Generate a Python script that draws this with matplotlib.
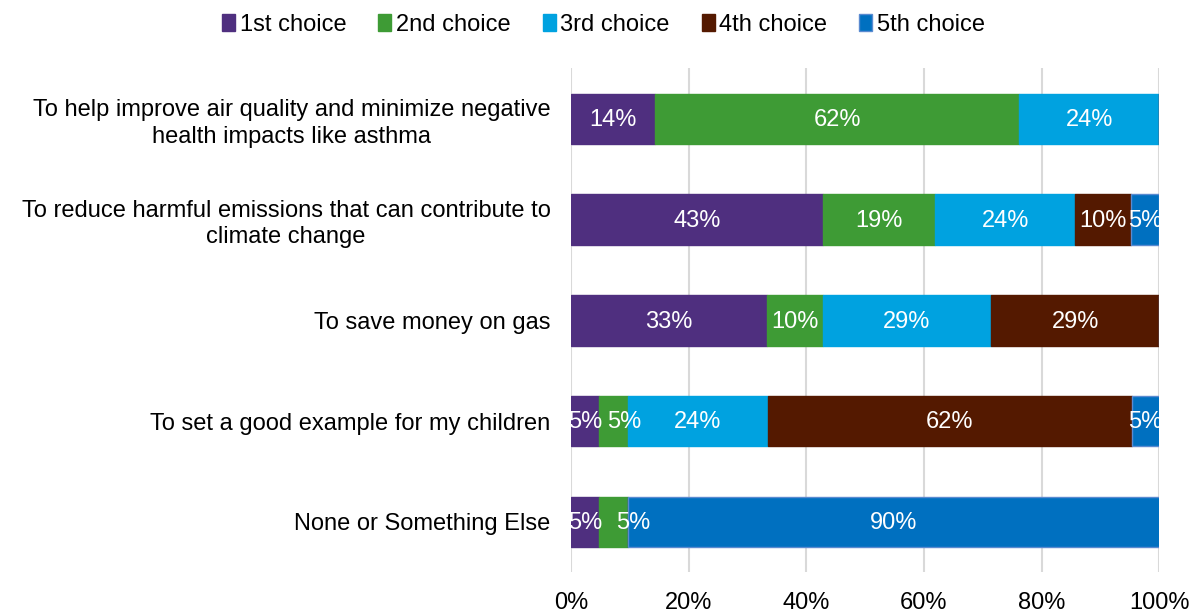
import matplotlib
matplotlib.use("Agg")
import matplotlib.pyplot as plt
import numpy as np

plt.rcParams['font.family'] = ['Liberation Sans', 'DejaVu Sans']

categories = [
    "To help improve air quality and minimize negative\nhealth impacts like asthma",
    "To reduce harmful emissions that can contribute to\nclimate change",
    "To save money on gas",
    "To set a good example for my children",
    "None or Something Else",
]
series_names = ["1st choice", "2nd choice", "3rd choice", "4th choice", "5th choice"]
# share of respondents (%) per ranking choice, one list per series
first_choice = [14.3, 42.9, 33.3, 4.8, 4.8]
second_choice = [61.9, 19.0, 9.5, 4.8, 4.8]
third_choice = [23.8, 23.8, 28.6, 23.8, 0.0]
fourth_choice = [0.0, 9.5, 28.6, 61.9, 0.0]
fifth_choice = [0.0, 4.8, 0.0, 4.8, 90.5]
x_ticks = [0, 20, 40, 60, 80, 100]

series = [first_choice, second_choice, third_choice, fourth_choice, fifth_choice]
colors = ["#4F2F7F", "#3E9B35", "#00A2E0", "#541900", "#0070C0"]
edges = ["#4F2F7F", "#3E9B35", "#00A2E0", "#541900", "#5A8AD0"]

# horizontal nudges (points) for labels on very thin segments: (series, row)
label_nudge = {(1, 3): 8, (1, 4): 14}

FS = 17

fig = plt.figure(figsize=(11.95, 6.16), dpi=100)
ax = fig.add_axes([0.478, 0.071, 0.492, 0.818])

y = np.arange(len(categories))
left = np.zeros(len(categories))
handles = []
for si, (name, vals, c, ec) in enumerate(zip(series_names, series, colors, edges)):
    vals = np.array(vals)
    bars = ax.barh(y, vals, left=left, height=0.5, color=c, edgecolor=ec,
                   linewidth=1.0, label=name, zorder=3)
    for ri, (yi, v, l) in enumerate(zip(y, vals, left)):
        if v > 0:
            ax.annotate(f"{v:.0f}%", xy=(l + v / 2, yi),
                        xytext=(label_nudge.get((si, ri), 0), -1),
                        textcoords='offset points', ha='center', va='center',
                        color='white', fontsize=FS, zorder=4, clip_on=True,
                        annotation_clip=False)
    left += vals
    handles.append(bars)

ax.set_xlim(0, 100)
ax.set_ylim(len(categories) - 0.5, -0.5)
ax.set_yticks(y)
ax.set_yticklabels(categories, fontsize=FS, multialignment='center',
                   linespacing=1.25)
ax.set_xticks(x_ticks)
ax.set_xticklabels([f"{t}%" for t in x_ticks], fontsize=FS)
ax.tick_params(axis='both', length=0)
ax.tick_params(axis='x', pad=14)
ax.tick_params(axis='y', pad=15)
ax.grid(axis='x', color='#D9D9D9', linewidth=1.5, zorder=0)
for s in ax.spines.values():
    s.set_visible(False)

fig.legend(handles=handles, labels=series_names, loc='upper center',
           bbox_to_anchor=(0.505, 1.012), ncol=5, frameon=False, fontsize=FS,
           handlelength=0.55, handleheight=0.7, handletextpad=0.2,
           columnspacing=1.35)

fig.savefig("out.png", dpi=100)
